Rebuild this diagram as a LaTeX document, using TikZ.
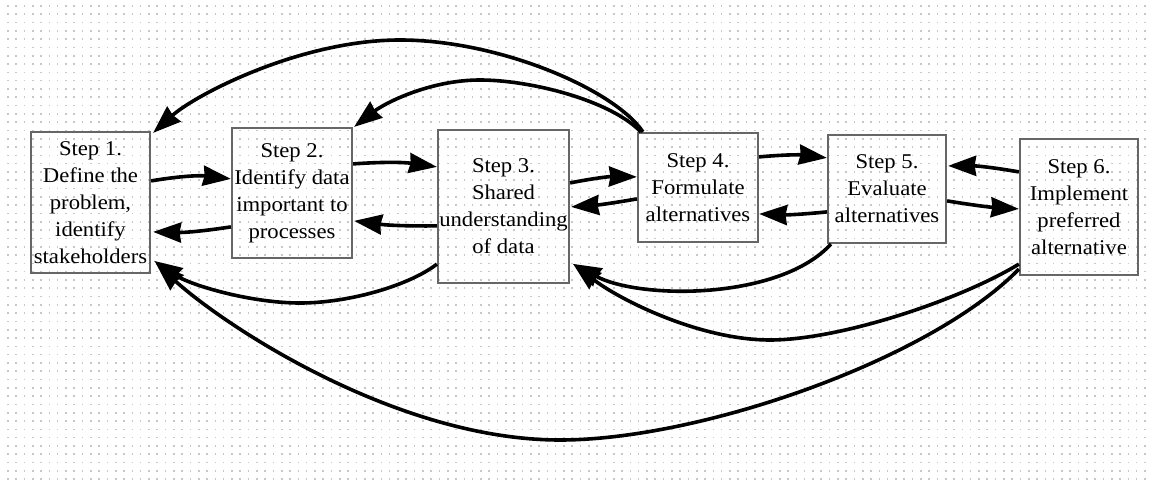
\documentclass[tikz,border=0pt]{standalone}
\usepackage{fontspec}
\setmainfont{Liberation Serif}[FakeStretch=1.08]
\usetikzlibrary{arrows.meta,calc}
\begin{document}
\begin{tikzpicture}[x=1pt,y=1pt,
  box/.style={draw=black!60, line width=2.2pt, rectangle, inner sep=0pt,
    align=center, text=black, font=\fontsize{21}{27}\selectfont},
  conn/.style={line width=3.6pt, -{Stealth[length=28pt,width=20pt,inset=1.5pt]}},
  griddot/.style={draw=black!22, line width=1.6pt, dash pattern=on 1.6pt off 6.7pt}]
% page and dotted grid
\fill[white] (0,0) rectangle (1149,-484);
\useasboundingbox (0,0) rectangle (1149,-484);
\foreach \y in {6,14.3,...,480} \draw[griddot] (7,-\y) -- (1146,-\y);

% the six steps
\node[box, minimum width=119pt, minimum height=141pt] (s1) at (90.5,-202.5)
  {Step 1.\\Define the\\problem,\\identify\\stakeholders};
\node[box, minimum width=120pt, minimum height=130pt] (s2) at (292,-193)
  {Step 2.\\Identify data\\important to\\processes};
\node[box, minimum width=131pt, minimum height=153pt] (s3) at (503.5,-206.5)
  {Step 3.\\Shared\\understanding\\of data};
\node[box, minimum width=120pt, minimum height=109pt] (s4) at (698,-187.5)
  {Step 4.\\Formulate\\alternatives};
\node[box, minimum width=118pt, minimum height=108pt] (s5) at (887,-189)
  {Step 5.\\Evaluate\\alternatives};
\node[box, minimum width=118pt, minimum height=136pt] (s6) at (1079,-207)
  {Step 6.\\Implement\\preferred\\alternative};

% links between neighbouring steps
\draw[conn] ($(s1.north east)+(0,-50)$) to[bend left=8] ($(s2.north west)+(0,-52)$);
\draw[conn] ($(s2.north west)+(0,-100)$) to[bend left=5] ($(s1.north east)+(2,-101)$);
\draw[conn] ($(s2.north east)+(0,-37)$) to[bend left=6] ($(s3.north west)+(0,-38)$);
\draw[conn] ($(s3.north west)+(0,-97)$) to[bend left=4] ($(s2.north east)+(1,-94)$);
\draw[conn] ($(s3.north east)+(0,-54)$) to[bend left=6] ($(s4.north west)+(0,-45)$);
\draw[conn] ($(s4.north west)+(0,-67)$) to[bend left=3] ($(s3.north east)+(1,-78)$);
\draw[conn] ($(s4.north east)+(0,-25)$) to[bend left=6] ($(s5.north west)+(0,-24)$);
\draw[conn] ($(s5.north west)+(0,-78)$) to[bend left=4] ($(s4.north east)+(0,-82)$);
\draw[conn] ($(s6.north west)+(0,-34)$) to[bend right=5] ($(s5.north east)+(1,-32)$);
\draw[conn] ($(s5.north east)+(0,-67)$) to[bend right=3] ($(s6.north west)+(0,-71)$);

% feedback arcs over the top
\draw[conn] ($(s4.north west)+(6,0)$) .. controls (615,-90) and (500,-40) .. (400,-40)
  .. controls (300,-40) and (195,-95) .. ($(s1.north east)+(2,-2)$);
\draw[conn] ($(s4.north west)+(4,0)$) .. controls (610,-100) and (530,-80) .. (480,-80)
  .. controls (430,-80) and (385,-103) .. ($(s2.north east)+(1,0)$);

% feedback arcs underneath
\draw[conn] ($(s3.south west)+(0,20)$) .. controls (410,-285) and (350,-303) .. (300,-303)
  .. controls (250,-303) and (190,-285) .. ($(s1.north east)+(3,-130)$);
\draw[conn] ($(s6.south west)+(0,7)$) .. controls (930,-360) and (700,-440) .. (560,-440)
  .. controls (400,-440) and (230,-330) .. ($(s1.north east)+(5,-133)$);
\draw[conn] ($(s6.south west)+(0,12)$) .. controls (960,-300) and (840,-340) .. (770,-340)
  .. controls (700,-340) and (620,-300) .. ($(s3.north east)+(3,-135)$);
\draw[conn] ($(s5.south west)+(4,0)$) .. controls (780,-300) and (640,-300) ..
  ($(s3.north east)+(3,-135)$);
\end{tikzpicture}
\end{document}
